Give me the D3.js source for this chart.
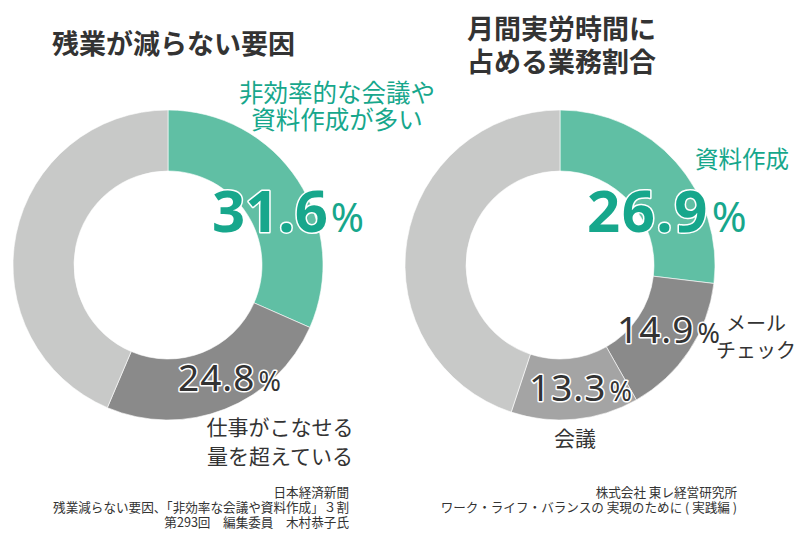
<!DOCTYPE html>
<html><head><meta charset="utf-8">
<script src="https://cdn.jsdelivr.net/npm/d3@7"></script>
<style>
body{margin:0;background:#fff;}
svg{display:block;}
text{font-family:"Noto Sans CJK JP","Noto Sans",sans-serif;}
</style></head>
<body><svg id="c" width="810" height="544"></svg>
<script>
// Data
const leftCategories = ["非効率的な会議や資料作成が多い", "仕事がこなせる量を超えている", "その他"];
const leftValues = [31.6, 24.8, 43.6];
const rightCategories = ["資料作成", "メールチェック", "会議", "その他"];
const rightValues = [26.9, 14.9, 13.3, 44.9];
const leftTitle = ["残業が減らない要因"];
const rightTitle = ["月間実労時間に", "占める業務割合"];
const leftSource = ["日本経済新聞", "残業減らない要因、「非効率な会議や資料作成」３割", "第293回　編集委員　木村恭子氏"];
const rightSource = ["株式会社 東レ経営研究所", "ワーク・ライフ・バランスの 実現のために ( 実践編 )"];

const svg = d3.select("#c");
const GREEN = "#60bfa4", GREEN_TXT = "#17a78c", DARK = "#8a8a8a", MID = "#a4a4a4", LIGHT = "#c8c9c8", TXT = "#333333";
const leftColors = d3.scaleOrdinal().domain(leftCategories).range([GREEN, DARK, LIGHT]);
const rightColors = d3.scaleOrdinal().domain(rightCategories).range([GREEN, DARK, MID, LIGHT]);

const pie = d3.pie().sort(null).value(d => d.v);
const arc = d3.arc().innerRadius(94).outerRadius(155);

function donut(cx, cy, cats, vals, color) {
  const data = cats.map((c, i) => ({c, v: vals[i]}));
  svg.append("g").attr("transform", `translate(${cx},${cy})`)
    .selectAll("path").data(pie(data)).join("path")
    .attr("d", arc).attr("fill", d => color(d.data.c))
    .attr("stroke", "#fff").attr("stroke-width", 0.6);
}
donut(168, 265, leftCategories, leftValues, leftColors);
donut(560, 265, rightCategories, rightValues, rightColors);

function lines(x, y0, dy, arr, size, fill, weight, anchor) {
  const t = svg.append("text").attr("x", x).attr("y", y0)
    .attr("font-size", size).attr("fill", fill).attr("font-weight", weight || 400)
    .attr("text-anchor", anchor || "start");
  arr.forEach((s, i) => t.append("tspan").attr("x", x).attr("y", y0 + i * dy).text(s));
  return t;
}
function pct(x, y, val, size, pSize, fill, weight, ls) {
  const t = svg.append("text").attr("x", x).attr("y", y)
    .attr("fill", fill).attr("font-weight", weight)
    .attr("stroke", "#fff").attr("stroke-width", 3).attr("paint-order", "stroke")
    .attr("stroke-linejoin", "round")
    .style("font-family", "'Noto Sans','DejaVu Sans',sans-serif");
  t.append("tspan").attr("font-size", size).attr("letter-spacing", ls).text(val.toFixed(1));
  t.append("tspan").attr("font-size", pSize).attr("font-weight", 400).attr("dx", 3).text("%");
}

// Titles
lines(52, 54, 33, leftTitle, 27, TXT, 700);
lines(467, 39, 33, rightTitle, 27, TXT, 700);

// Left labels
lines(337, 102, 27, ["非効率的な会議や", "資料作成が多い"], 24.5, GREEN_TXT, 400, "middle");
pct(212, 232, leftValues[0], 58, 40, GREEN_TXT, 700, 0);
pct(178, 391, leftValues[1], 37, 27, TXT, 400, 1);
lines(280, 435, 29, ["仕事がこなせる", "量を超えている"], 21, TXT, 400, "middle");

// Right labels
lines(695, 168, 27, [rightCategories[0]], 23.5, GREEN_TXT, 400);
pct(587, 232, rightValues[0], 58, 42, GREEN_TXT, 700, 1.5);
pct(617, 343, rightValues[1], 37, 27, TXT, 400, 1);
lines(756, 331, 27, ["メール", "チェック"], 20, TXT, 400, "middle");
pct(529, 401, rightValues[2], 37, 27, TXT, 400, 1);
lines(575, 446, 27, [rightCategories[2]], 21, TXT, 400, "middle");

// Sources
lines(349, 497, 14.8, leftSource, 12.6, TXT, 400, "end");
lines(737, 497, 14.8, rightSource, 12.6, TXT, 400, "end");
</script></body></html>
